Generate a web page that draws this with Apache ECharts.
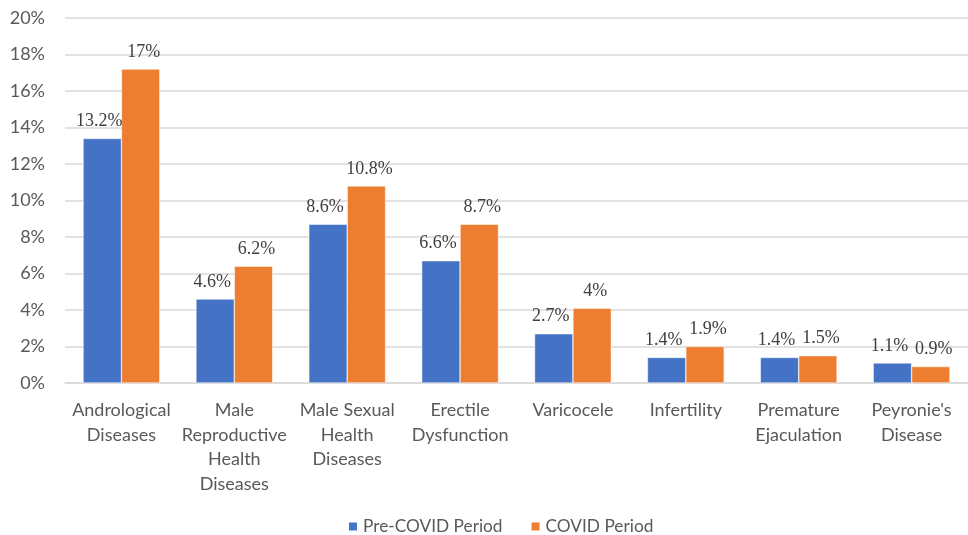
<!DOCTYPE html>
<html>
    <head>
        <meta charset="UTF-8" />
        <script src="https://cdn.jsdelivr.net/npm/echarts@6/dist/echarts.min.js"></script>
    </head>

    <body style="margin:0">
        <div id="main" style="width: 968px; height: 535px"></div>
        <script type="text/javascript">
            var categories = ['Andrological\nDiseases', 'Male\nReproductive\nHealth\nDiseases', 'Male Sexual\nHealth\nDiseases',
                'Erectile\nDysfunction', 'Varicocele', 'Infertility', 'Premature\nEjaculation', "Peyronie's\nDisease"];
            // bar heights as drawn
            var preCovid = [13.4, 4.6, 8.7, 6.7, 2.7, 1.4, 1.4, 1.1];
            var covid = [17.2, 6.4, 10.8, 8.7, 4.1, 2.0, 1.5, 0.9];
            // label texts as printed
            var preCovidLabels = ['13.2%', '4.6%', '8.6%', '6.6%', '2.7%', '1.4%', '1.4%', '1.1%'];
            var covidLabels = ['17%', '6.2%', '10.8%', '8.7%', '4%', '1.9%', '1.5%', '0.9%'];

            var chartDom = document.getElementById("main");
            var myChart = echarts.init(chartDom);

            var labelStyle = {
                show: true,
                position: 'top',
                distance: 8,
                fontFamily: 'Liberation Serif',
                fontSize: 18,
                color: '#404040'
            };

            var option = {
                animation: false,
                textStyle: { fontFamily: 'Lato' },
                grid: { left: 65, right: -4, top: 18, bottom: 152 },
                legend: {
                    bottom: -5,
                    left: 342,
                    itemWidth: 10,
                    itemHeight: 10,
                    itemGap: 27,
                    icon: 'rect',
                    textStyle: { fontSize: 17.3, color: '#595959', fontFamily: 'Lato' },
                    data: ['Pre-COVID Period', 'COVID Period']
                },
                xAxis: {
                    type: 'category',
                    data: categories,
                    axisLine: { lineStyle: { color: '#d9d9d9', width: 1.5 } },
                    axisTick: { show: false },
                    axisLabel: {
                        interval: 0,
                        margin: 15,
                        fontSize: 18,
                        lineHeight: 24.5,
                        color: '#595959',
                        fontFamily: 'Lato'
                    }
                },
                yAxis: {
                    type: 'value',
                    min: 0,
                    max: 20,
                    interval: 2,
                    axisLine: { show: false },
                    axisTick: { show: false },
                    splitLine: { lineStyle: { color: '#d9d9d9', width: 1.5 } },
                    axisLabel: {
                        margin: 20,
                        fontSize: 18,
                        color: '#595959',
                        fontFamily: 'Lato',
                        formatter: '{value}%'
                    }
                },
                series: [
                    {
                        name: 'Pre-COVID Period',
                        type: 'bar',
                        barGap: '0%',
                        barCategoryGap: '32%',
                        itemStyle: { color: '#4472C4', borderColor: '#ffffff', borderWidth: 0.5 },
                        label: Object.assign({}, labelStyle, {
                            offset: [-3, 0],
                            formatter: function (p) { return preCovidLabels[p.dataIndex]; }
                        }),
                        data: preCovid
                    },
                    {
                        name: 'COVID Period',
                        type: 'bar',
                        itemStyle: { color: '#ED7D31', borderColor: '#ffffff', borderWidth: 0.5 },
                        label: Object.assign({}, labelStyle, {
                            offset: [3, 0],
                            formatter: function (p) { return covidLabels[p.dataIndex]; }
                        }),
                        data: covid
                    }
                ]
            };

            option && myChart.setOption(option);
        </script>
    </body>
</html>
